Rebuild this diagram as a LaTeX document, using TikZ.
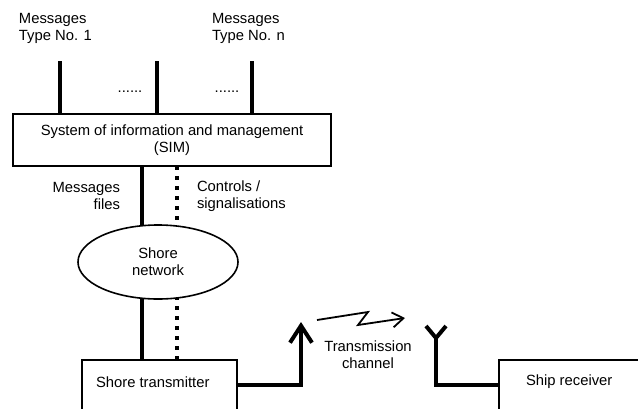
\documentclass[tikz,border=0pt]{standalone}
\usepackage{fontspec}
\setmainfont{Liberation Sans}
\usetikzlibrary{shapes.geometric,arrows.meta,backgrounds}

\begin{document}
\begin{tikzpicture}[x=1pt,y=-1pt,
  txt/.style={font=\fontsize{14.8}{17}\selectfont, inner sep=0pt, outer sep=0pt},
  block/.style={draw, line width=1.8pt, fill=white, inner sep=0pt, outer sep=0pt},
  cloud/.style={ellipse, draw, line width=1.6pt, fill=white, inner sep=0pt, outer sep=0pt,
                align=center, font=\fontsize{14.8}{17}\selectfont},
  feed/.style={line width=4pt},
  ctrl/.style={line width=4pt, dash pattern=on 4pt off 6pt},
  radio/.style={line width=1.8pt},
]
\clip (0,0) rectangle (638,408);

% blocks
\node[block, minimum width=318pt, minimum height=52pt, align=center,
      font=\fontsize{14.8}{17}\selectfont] (sim) at (172,140)
  {System of information and management\\(SIM)};
\node[cloud, minimum width=160pt, minimum height=74pt] (net) at (158,262) {Shore\\network};
\node[block, minimum width=155pt, minimum height=50pt] (tx) at (159.5,385) {};
\node[block, minimum width=160pt, minimum height=50pt] (rx) at (579,385) {};
\node[txt, anchor=west] (txlbl) at (96,382) {Shore transmitter};
\node[txt, anchor=west] (rxlbl) at (526,382) {Ship receiver};

% message inputs
\node[txt, anchor=west, align=left] (in1) at (19,28.5) {Messages\\Type No. 1};
\node[txt, anchor=west, align=left] (inn) at (212,28.5) {Messages\\Type No. n};
\coordinate (m1) at (60,61);
\coordinate (m2) at (157,61);
\coordinate (mn) at (252,61);
\draw[feed] (m1) -- (m1 |- sim.north);
\draw[feed] (m2) -- (m2 |- sim.north);
\draw[feed] (mn) -- (mn |- sim.north);
\node[txt] (dots1) at (130,92) {......};
\node[txt] (dots2) at (227,92) {......};

% links between SIM, shore network and transmitter
\coordinate (feedx) at (141.5,200);
\coordinate (ctrlx) at (177,200);
\begin{scope}[on background layer]
  \draw[feed] (sim.south -| feedx) -- (net.center -| feedx) -- (tx.north -| feedx);
  \draw[ctrl] (sim.south -| ctrlx) -- (tx.north -| ctrlx);
\end{scope}
\node[txt, anchor=east, align=right] (lblfiles) at (120,196) {Messages\\files};
\node[txt, anchor=west, align=left] (lblctrl) at (197,196) {Controls /\\signalisations};

% transmitting antenna
\coordinate (txant) at (301,322);
\draw[feed, line join=miter, -{Straight Barb[length=17pt,width=22pt,line cap=butt]}]
  (tx.east) -| (txant);

% radio path
\coordinate (z0) at (317,320);
\coordinate (z1) at (368,312);
\coordinate (z2) at (358,325);
\coordinate (z3) at (405,318);
\draw[radio, -{Straight Barb[length=11pt,width=15pt]}] (z0) -- (z1) -- (z2) -- (z3);
\node[txt, align=center] (chan) at (368,355) {Transmission\\channel};

% receiving antenna
\coordinate (rxant) at (436,338);
\coordinate (armL) at (426,326);
\coordinate (armR) at (446,326);
\draw[feed, line join=miter] (rx.west) -| (rxant);
\draw[feed, line join=miter] (armL) -- (rxant) -- (armR);
\end{tikzpicture}
\end{document}
